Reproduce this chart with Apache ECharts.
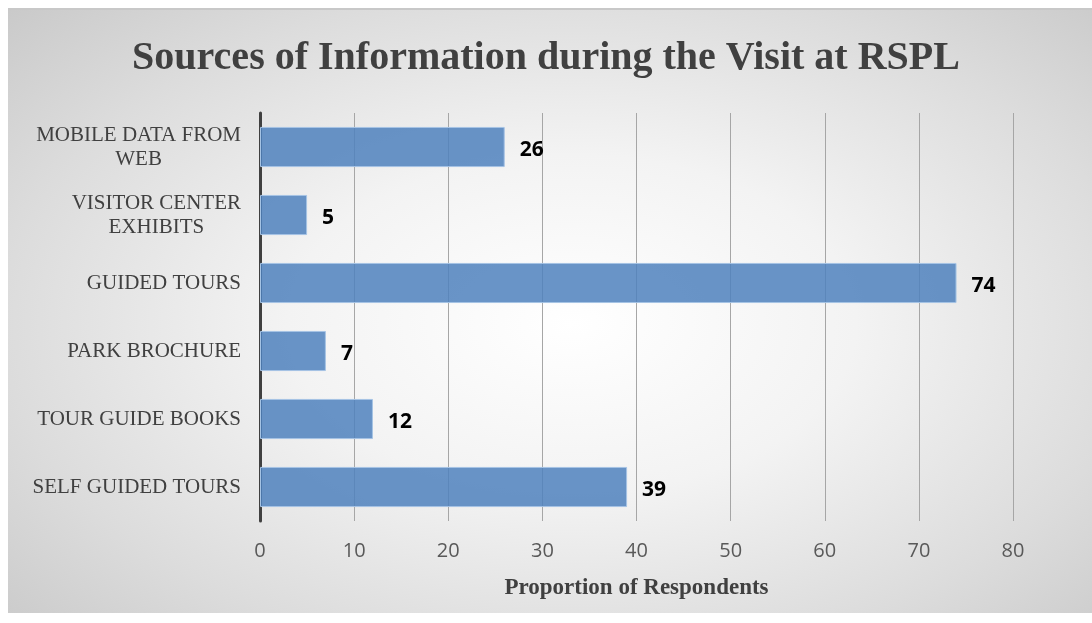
<!DOCTYPE html>
<html>
<head>
<meta charset="utf-8">
<script src="https://cdn.jsdelivr.net/npm/echarts@6/dist/echarts.min.js"></script>
<style>
  html, body { margin: 0; padding: 0; background: #ffffff; }
  body { width: 1092px; height: 623px; position: relative; overflow: hidden; }
  #frame {
    position: absolute; left: 8px; top: 8px; width: 1084px; height: 605px;
    box-sizing: border-box; border-top: 2px solid #c8c8c8;
    background: radial-gradient(ellipse 75% 80% at 52% 52%, #ffffff 0%, #f3f3f3 35%, #dcdcdc 70%, #c6c6c6 100%);
  }
  #chart { position: absolute; left: 0; top: 0; width: 1092px; height: 623px; }
</style>
</head>
<body>
<div id="frame"></div>
<div id="chart"></div>
<script>
// Information sources used during the visit, listed bottom to top
const categories = [
  'SELF GUIDED TOURS',
  'TOUR GUIDE BOOKS',
  'PARK BROCHURE',
  'GUIDED TOURS',
  'VISITOR CENTER\nEXHIBITS',
  'MOBILE DATA FROM\nWEB'
];
const respondents = [39, 12, 7, 74, 5, 26];
const xTicks = [0, 10, 20, 30, 40, 50, 60, 70, 80];

const chart = echarts.init(document.getElementById('chart'), null, { renderer: 'canvas' });

chart.setOption({
  backgroundColor: 'transparent',
  animation: false,
  title: {
    text: 'Sources of Information during the Visit at RSPL',
    left: 'center',
    top: 39,
    padding: 0,
    textStyle: {
      fontFamily: '"Liberation Serif", "Times New Roman", serif',
      fontWeight: 'bold',
      fontSize: 40,
      color: '#404040'
    }
  },
  grid: { left: 260, right: 79, top: 113, bottom: 102, containLabel: false },
  xAxis: {
    type: 'value',
    min: xTicks[0],
    max: xTicks[xTicks.length - 1],
    interval: 10,
    name: 'Proportion of Respondents',
    nameLocation: 'middle',
    nameGap: 56,
    nameTextStyle: {
      fontFamily: '"Liberation Serif", "Times New Roman", serif',
      fontWeight: 'bold',
      fontSize: 23,
      color: '#404040'
    },
    axisLine: { show: false },
    axisTick: { show: false },
    axisLabel: {
      margin: 20,
      fontFamily: '"Open Sans", "Liberation Sans", sans-serif',
      fontSize: 20,
      color: '#595959'
    },
    splitLine: { show: true, lineStyle: { color: '#a6a6a6', width: 1 } }
  },
  yAxis: {
    type: 'category',
    data: categories,
    axisTick: { show: false },
    axisLine: { show: true, lineStyle: { color: '#404040', width: 3 } },
    axisLabel: {
      margin: 19,
      align: 'right',
      lineHeight: 24,
      formatter: function (v) {
        return v.split('\n').map(function (l) { return '{c|' + l + '}'; }).join('\n');
      },
      rich: {
        c: {
          align: 'center',
          fontFamily: '"Liberation Serif", "Times New Roman", serif',
          fontSize: 21,
          lineHeight: 24,
          color: '#404040'
        }
      }
    }
  },
  series: [{
    type: 'bar',
    data: respondents,
    barCategoryGap: '41%',
    itemStyle: {
      color: 'rgba(79,129,189,0.85)',
      borderColor: 'rgba(165,195,228,1)',
      borderWidth: 1
    },
    label: {
      show: true,
      position: 'right',
      distance: 15,
      offset: [0, 3],
      fontFamily: '"Open Sans", "Liberation Sans", sans-serif',
      fontWeight: 'bold',
      fontSize: 21,
      color: '#000000'
    }
  }]
});
</script>
</body>
</html>
